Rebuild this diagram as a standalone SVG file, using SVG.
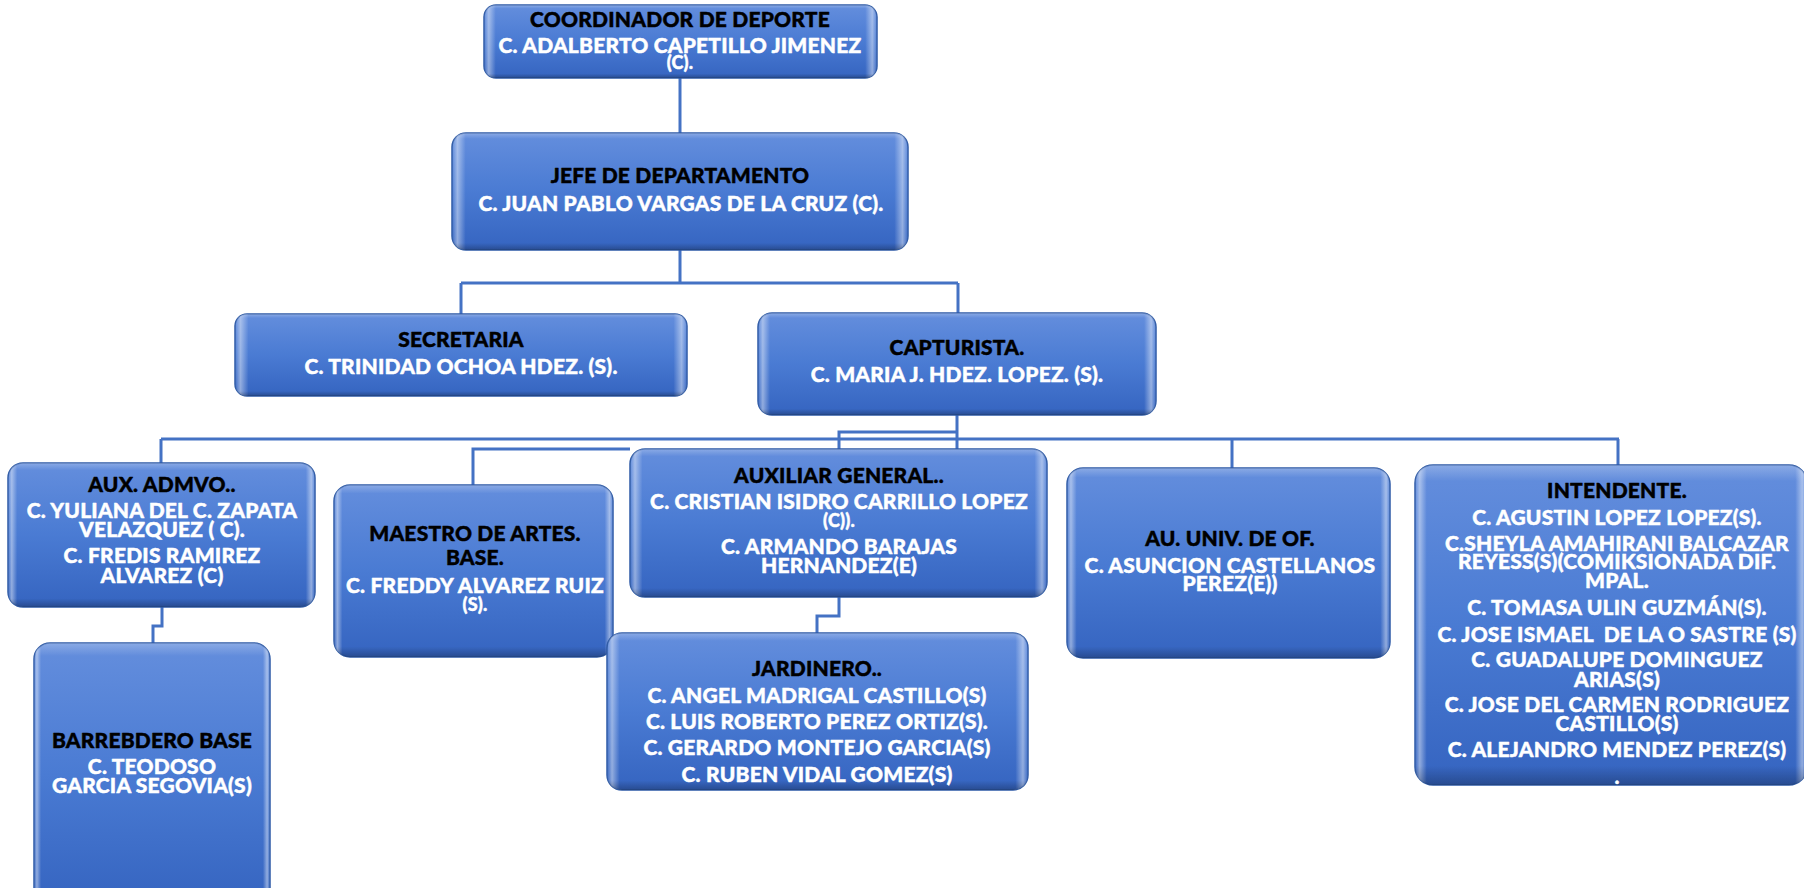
<svg xmlns="http://www.w3.org/2000/svg" width="1804" height="888" viewBox="0 0 1804 888">
<defs>
<linearGradient id="face" x1="0" y1="0" x2="0" y2="1">
<stop offset="0" stop-color="#648edd"/>
<stop offset="0.5" stop-color="#4a7bd3"/>
<stop offset="1" stop-color="#3564c0"/>
</linearGradient>
<linearGradient id="edge" x1="0" y1="0" x2="1" y2="0">
<stop offset="0" stop-color="#fff" stop-opacity="0"/>
<stop offset="0.012" stop-color="#fff" stop-opacity="0.45"/>
<stop offset="0.03" stop-color="#fff" stop-opacity="0"/>
<stop offset="0.97" stop-color="#fff" stop-opacity="0"/>
<stop offset="0.988" stop-color="#fff" stop-opacity="0.45"/>
<stop offset="1" stop-color="#fff" stop-opacity="0"/>
</linearGradient>
<linearGradient id="tb" x1="0" y1="0" x2="0" y2="1">
<stop offset="0" stop-color="#fff" stop-opacity="0.25"/>
<stop offset="0.05" stop-color="#fff" stop-opacity="0"/>
<stop offset="0.94" stop-color="#000" stop-opacity="0"/>
<stop offset="1" stop-color="#000" stop-opacity="0.25"/>
</linearGradient>
</defs>
<style>
.b{fill:url(#face);stroke:#2e5aa6;stroke-width:1.5}
.e{fill:url(#edge)}
.s{fill:url(#tb)}
.h,.t{font-family:Lato,"Liberation Sans",sans-serif;font-size:21px;text-anchor:middle;font-weight:900;stroke-width:0.45;stroke-linejoin:round;letter-spacing:0.2px}
.h{fill:#000;stroke:#000}
.t{fill:#fff;stroke:#fff}
.c{fill:none;stroke:#4472c4;stroke-width:3}
</style>
<g id="connectors">
<path class="c" d="M680 78V133"/>
<path class="c" d="M680 250V283M461 283H958M461 283V314M958 283V313"/>
<path class="c" d="M957 415V449M839 449V432H957"/>
<path class="c" d="M161 439H1619M161 439V463M1232 439V468M1618 439V465"/>
<path class="c" d="M630 449H473V485"/>
<path class="c" d="M162 607V626H153V643"/>
<path class="c" d="M839 597V616H817V633"/>
</g>
<g id="coordinador">
<rect class="b" x="484" y="5" width="393" height="73" rx="12"/>
<rect class="e" x="484" y="5" width="393" height="73" rx="12"/>
<rect class="s" x="484" y="5" width="393" height="73" rx="12"/>
<text class="h" x="680" y="27">COORDINADOR DE DEPORTE</text>
<text class="t" x="680" y="53">C. ADALBERTO CAPETILLO JIMENEZ</text>
<text class="t" x="680" y="69" style="font-size:18px">(C).</text>
</g>
<g id="jefe">
<rect class="b" x="452" y="133" width="456" height="117" rx="14"/>
<rect class="e" x="452" y="133" width="456" height="117" rx="14"/>
<rect class="s" x="452" y="133" width="456" height="117" rx="14"/>
<text class="h" x="680" y="183">JEFE DE DEPARTAMENTO</text>
<text class="t" x="681" y="211">C. JUAN PABLO VARGAS DE LA CRUZ (C).</text>
</g>
<g id="secretaria">
<rect class="b" x="235" y="314" width="452" height="82" rx="12"/>
<rect class="e" x="235" y="314" width="452" height="82" rx="12"/>
<rect class="s" x="235" y="314" width="452" height="82" rx="12"/>
<text class="h" x="461" y="347">SECRETARIA</text>
<text class="t" x="461" y="374">C. TRINIDAD OCHOA HDEZ. (S).</text>
</g>
<g id="capturista">
<rect class="b" x="758" y="313" width="398" height="102" rx="14"/>
<rect class="e" x="758" y="313" width="398" height="102" rx="14"/>
<rect class="s" x="758" y="313" width="398" height="102" rx="14"/>
<text class="h" x="957" y="355">CAPTURISTA.</text>
<text class="t" x="957" y="382">C. MARIA J. HDEZ. LOPEZ. (S).</text>
</g>
<g id="aux-admvo">
<rect class="b" x="8" y="463" width="307" height="144" rx="15"/>
<rect class="e" x="8" y="463" width="307" height="144" rx="15"/>
<rect class="s" x="8" y="463" width="307" height="144" rx="15"/>
<text class="h" x="162" y="492">AUX. ADMVO..</text>
<text class="t" x="162" y="518">C. YULIANA DEL C. ZAPATA</text>
<text class="t" x="162" y="537">VELAZQUEZ ( C).</text>
<text class="t" x="162" y="563">C. FREDIS RAMIREZ</text>
<text class="t" x="162" y="583">ALVAREZ (C)</text>
</g>
<g id="barrendero">
<rect class="b" x="34" y="643" width="236" height="262" rx="16"/>
<rect class="e" x="34" y="643" width="236" height="262" rx="16"/>
<rect class="s" x="34" y="643" width="236" height="262" rx="16"/>
<text class="h" x="152" y="748">BARREBDERO BASE</text>
<text class="t" x="152" y="774">C. TEODOSO</text>
<text class="t" x="152" y="793">GARCIA SEGOVIA(S)</text>
</g>
<g id="maestro">
<rect class="b" x="334" y="485" width="279" height="172" rx="16"/>
<rect class="e" x="334" y="485" width="279" height="172" rx="16"/>
<rect class="s" x="334" y="485" width="279" height="172" rx="16"/>
<text class="h" x="475" y="541">MAESTRO DE ARTES.</text>
<text class="h" x="475" y="565">BASE.</text>
<text class="t" x="475" y="593">C. FREDDY ALVAREZ RUIZ</text>
<text class="t" x="475" y="611" style="font-size:18px">(S).</text>
</g>
<g id="aux-general">
<rect class="b" x="630" y="449" width="417" height="148" rx="15"/>
<rect class="e" x="630" y="449" width="417" height="148" rx="15"/>
<rect class="s" x="630" y="449" width="417" height="148" rx="15"/>
<text class="h" x="839" y="483">AUXILIAR GENERAL..</text>
<text class="t" x="839" y="509">C. CRISTIAN ISIDRO CARRILLO LOPEZ</text>
<text class="t" x="839" y="527" style="font-size:18px">(C)).</text>
<text class="t" x="839" y="554">C. ARMANDO BARAJAS</text>
<text class="t" x="839" y="573">HERNANDEZ(E)</text>
</g>
<g id="jardinero">
<rect class="b" x="607" y="633" width="421" height="157" rx="15"/>
<rect class="e" x="607" y="633" width="421" height="157" rx="15"/>
<rect class="s" x="607" y="633" width="421" height="157" rx="15"/>
<text class="h" x="817" y="676">JARDINERO..</text>
<text class="t" x="817" y="703">C. ANGEL MADRIGAL CASTILLO(S)</text>
<text class="t" x="817" y="729">C. LUIS ROBERTO PEREZ ORTIZ(S).</text>
<text class="t" x="817" y="755">C. GERARDO MONTEJO GARCIA(S)</text>
<text class="t" x="817" y="782">C. RUBEN VIDAL GOMEZ(S)</text>
</g>
<g id="au-univ">
<rect class="b" x="1067" y="468" width="323" height="190" rx="16"/>
<rect class="e" x="1067" y="468" width="323" height="190" rx="16"/>
<rect class="s" x="1067" y="468" width="323" height="190" rx="16"/>
<text class="h" x="1230" y="546">AU. UNIV. DE OF.</text>
<text class="t" x="1230" y="573">C. ASUNCION CASTELLANOS</text>
<text class="t" x="1230" y="591">PEREZ(E))</text>
</g>
<g id="intendente">
<rect class="b" x="1415" y="465" width="392" height="320" rx="18"/>
<rect class="e" x="1415" y="465" width="392" height="320" rx="18"/>
<rect class="s" x="1415" y="465" width="392" height="320" rx="18"/>
<text class="h" x="1617" y="498">INTENDENTE.</text>
<text class="t" x="1617" y="525">C. AGUSTIN LOPEZ LOPEZ(S).</text>
<text class="t" x="1617" y="551">C.SHEYLA AMAHIRANI BALCAZAR</text>
<text class="t" x="1617" y="569">REYESS(S)(COMIKSIONADA DIF.</text>
<text class="t" x="1617" y="588">MPAL.</text>
<text class="t" x="1617" y="615">C. TOMASA ULIN GUZMÁN(S).</text>
<text class="t" x="1617" y="642" xml:space="preserve">C. JOSE ISMAEL  DE LA O SASTRE (S)</text>
<text class="t" x="1617" y="667">C. GUADALUPE DOMINGUEZ</text>
<text class="t" x="1617" y="687">ARIAS(S)</text>
<text class="t" x="1617" y="712">C. JOSE DEL CARMEN RODRIGUEZ</text>
<text class="t" x="1617" y="731">CASTILLO(S)</text>
<text class="t" x="1617" y="757">C. ALEJANDRO MENDEZ PEREZ(S)</text>
<text class="t" x="1617" y="784">.</text>
</g>
</svg>
